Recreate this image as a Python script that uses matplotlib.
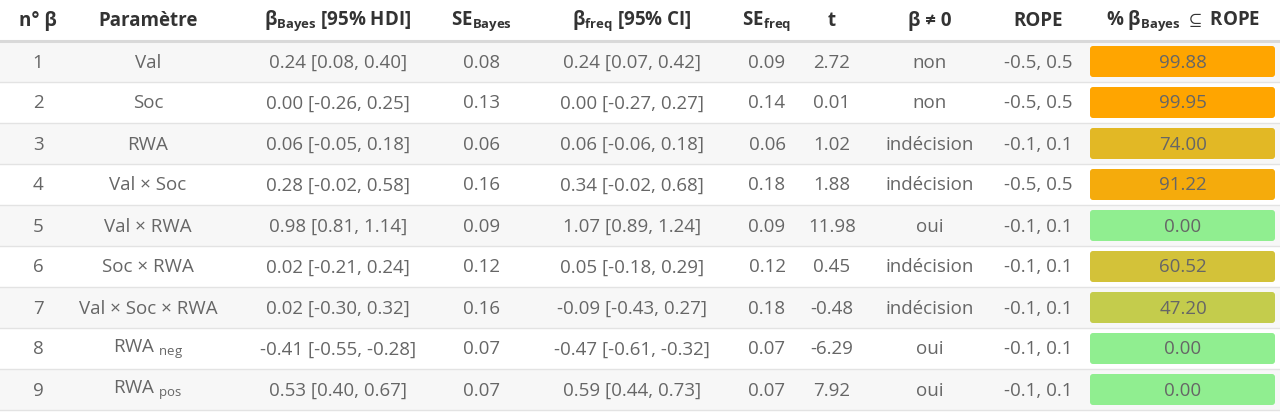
import numpy as np
import matplotlib
matplotlib.use("Agg")
import matplotlib.pyplot as plt
from matplotlib.colors import LinearSegmentedColormap
from matplotlib.patches import FancyBboxPatch

plt.rcParams["font.family"] = ["Open Sans", "DejaVu Sans"]
plt.rcParams["mathtext.fontset"] = "custom"
plt.rcParams["mathtext.rm"] = "Open Sans"
plt.rcParams["mathtext.it"] = "Open Sans"
plt.rcParams["mathtext.bf"] = "Open Sans:bold"
plt.rcParams["mathtext.fallback"] = "stixsans"

headers = ["n° β", "Paramètre", r"$\mathbf{β_{Bayes}}$ [95% HDI]", r"$\mathbf{SE_{Bayes}}$",
           r"$\mathbf{β_{freq}}$ [95% CI]", r"$\mathbf{SE_{freq}}$", "t", "β ≠ 0", "ROPE",
           r"% $\mathbf{β_{Bayes}}\ \subseteq$ ROPE"]
num = [str(i) for i in range(1, 10)]
params = ["Val", "Soc", "RWA", "Val × Soc", "Val × RWA", "Soc × RWA", "Val × Soc × RWA",
          r"RWA $_{\mathrm{neg}}$", r"RWA $_{\mathrm{pos}}$"]
b_bayes = ["0.24 [0.08, 0.40]", "0.00 [-0.26, 0.25]", "0.06 [-0.05, 0.18]", "0.28 [-0.02, 0.58]",
           "0.98 [0.81, 1.14]", "0.02 [-0.21, 0.24]", "0.02 [-0.30, 0.32]", "-0.41 [-0.55, -0.28]",
           "0.53 [0.40, 0.67]"]
se_bayes = ["0.08", "0.13", "0.06", "0.16", "0.09", "0.12", "0.16", "0.07", "0.07"]
b_freq = ["0.24 [0.07, 0.42]", "0.00 [-0.27, 0.27]", "0.06 [-0.06, 0.18]", "0.34 [-0.02, 0.68]",
          "1.07 [0.89, 1.24]", "0.05 [-0.18, 0.29]", "-0.09 [-0.43, 0.27]", "-0.47 [-0.61, -0.32]",
          "0.59 [0.44, 0.73]"]
se_freq = ["0.09", "0.14", "0.06", "0.18", "0.09", "0.12", "0.18", "0.07", "0.07"]
t_vals = ["2.72", "0.01", "1.02", "1.88", "11.98", "0.45", "-0.48", "-6.29", "7.92"]
decision = ["non", "non", "indécision", "indécision", "oui", "indécision", "indécision", "oui", "oui"]
rope = ["-0.5, 0.5", "-0.5, 0.5", "-0.1, 0.1", "-0.5, 0.5", "-0.1, 0.1", "-0.1, 0.1", "-0.1, 0.1",
        "-0.1, 0.1", "-0.1, 0.1"]
pct_rope = [99.88, 99.95, 74.00, 91.22, 0.00, 60.52, 47.20, 0.00, 0.00]

columns = [num, params, b_bayes, se_bayes, b_freq, se_freq, t_vals, decision, rope]
col_x = [38, 148, 338, 482, 632, 767, 832, 930, 1038, 1183]

W, H = 1280, 413
fig = plt.figure(figsize=(W / 100, H / 100), dpi=100)
ax = fig.add_axes([0, 0, 1, 1])
ax.set_xlim(0, W)
ax.set_ylim(H, 0)
ax.axis("off")

cmap = LinearSegmentedColormap.from_list("rope", ["#90EE90", "#FFA500"])
fs = 13.5

head_y, top, row_h = 21, 41, 41
for x, h in zip(col_x, headers):
    ax.text(x, head_y, h, ha="center", va="center", fontsize=fs, fontweight="bold", color="#333333")
ax.plot([0, W], [top, top], color="#d9d9d9", lw=2.2)

for i in range(len(num)):
    y0 = top + i * row_h
    if i % 2 == 0:
        ax.add_patch(plt.Rectangle((0, y0), W, row_h, color="#f7f7f7", lw=0, zorder=0))
    ax.plot([0, W], [y0 + row_h, y0 + row_h], color="#e3e3e3", lw=1)
    yc = y0 + row_h / 2 + 1
    for x, col in zip(col_x, columns):
        ax.text(x, yc, col[i], ha="center", va="center", fontsize=fs, color="#666666")
    ax.add_patch(FancyBboxPatch((1090, y0 + 5), 185, row_h - 10,
                                boxstyle="round,pad=0,rounding_size=3",
                                color=cmap(pct_rope[i] / 100), lw=0))
    ax.text(col_x[-1], yc, f"{pct_rope[i]:.2f}", ha="center", va="center", fontsize=fs, color="#666666")

fig.savefig("out.png", dpi=100)
